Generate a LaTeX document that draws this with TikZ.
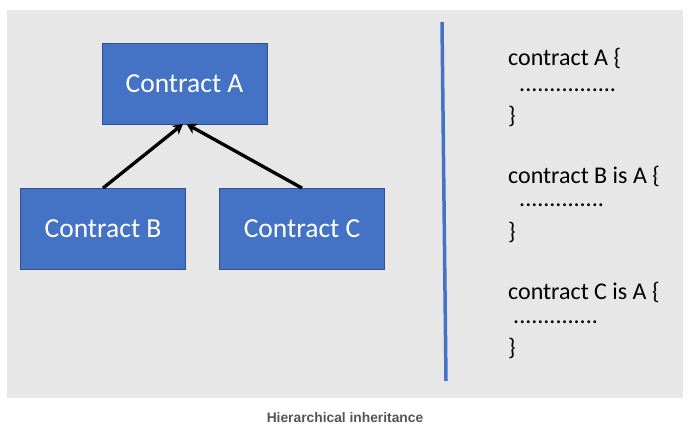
\documentclass[tikz,border=0pt]{standalone}
\usepackage{fontspec}
\setmainfont{Carlito}
\newfontfamily\capfont{Liberation Sans}
\usetikzlibrary{arrows.meta}
\definecolor{bgray}{HTML}{E7E7E7}
\definecolor{boxblue}{HTML}{4472C4}
\definecolor{boxedge}{HTML}{2F528F}
\definecolor{capgray}{HTML}{555555}
\tikzset{
  cbox/.style={draw=boxedge, line width=0.8pt, fill=boxblue, text=white,
    minimum width=165pt, minimum height=81pt, inner sep=0pt,
    font=\fontsize{27.5}{31}\selectfont},
  code/.style={anchor=west, inner sep=0pt, font=\fontsize{24}{28}\selectfont, text=black},
  inh/.style={line width=3.3pt, -{Stealth[length=10pt,width=11pt,inset=3pt]}},
}
\begin{document}
\begin{tikzpicture}[x=1pt,y=-1pt]
\useasboundingbox (0,0) rectangle (690,427);
\fill[white] (0,0) rectangle (690,427);
\fill[bgray] (7,10) rectangle (683,398);
\node[cbox] (A) at (184.5,83.5) {Contract A};
\node[cbox] (B) at (103,229) {Contract B};
\node[cbox] (C) at (302,229) {Contract C};
\coordinate (tipL) at (183,124);
\coordinate (tipR) at (186.5,124);
\draw[inh] (B.north) -- (tipL);
\draw[inh] (C.north) -- (tipR);
\coordinate (lt) at (442,22);
\coordinate (lb) at (446,381);
\draw[boxblue, line width=3.5pt] (lt) -- (lb);
\node[code] (c1) at (508,58) {contract A \{};
\node[code] (d1) at (519,90) {................};
\node[code] (e1) at (508,116) {\}};
\node[code] (c2) at (508,176) {contract B is A \{};
\node[code] (d2) at (519,205) {..............};
\node[code] (e2) at (508,232) {\}};
\node[code] (c3) at (508,292) {contract C is A \{};
\node[code] (d3) at (513,322) {..............};
\node[code] (e3) at (508,348) {\}};
\node[font=\capfont\bfseries\fontsize{13.8}{16}\selectfont, text=capgray, inner sep=0pt] (cap) at (345,418) {Hierarchical inheritance};
\end{tikzpicture}
\end{document}
